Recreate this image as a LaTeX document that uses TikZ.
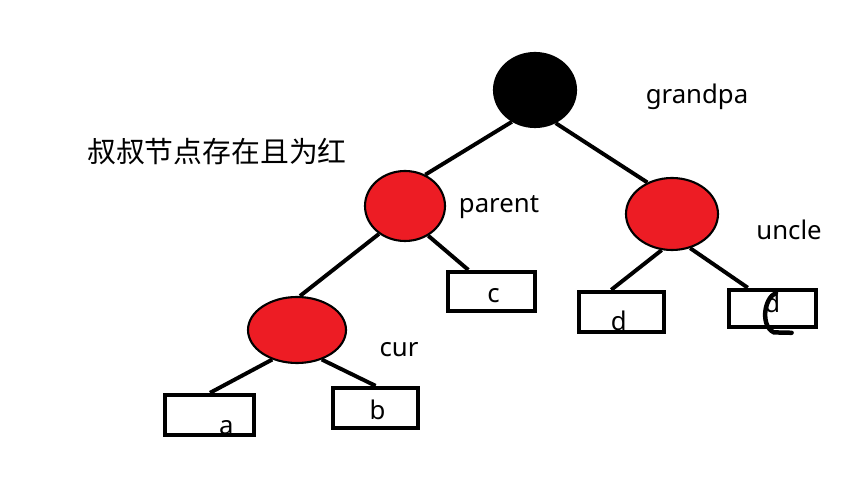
\documentclass[tikz,border=0pt]{standalone}
\usepackage{fontspec}
\usepackage{xcolor}
\setmainfont{Noto Sans}
\newfontfamily\cjk{Noto Sans CJK SC}
\usetikzlibrary{shapes.geometric,calc}
\definecolor{paintred}{RGB}{237,28,36}
\tikzset{
    rbnode/.style={ellipse,draw=black,line width=1.5pt,inner sep=0pt},
    leafbox/.style={rectangle,draw=black,line width=3.1pt,inner sep=0pt},
    treeedge/.style={black,line width=2.8pt},
    lbl/.style={font=\fontsize{18.3}{21}\selectfont,inner sep=0pt}
}

\begin{document}
\begin{tikzpicture}
    % Canvas
    \useasboundingbox (0,0) rectangle (21.15,11.95);

    % Tree nodes
    \node[rbnode,fill=black,minimum width=2.05cm,minimum height=1.85cm] (grandpa) at (13.375,9.7) {};
    \node[rbnode,fill=paintred,minimum width=2.0cm,minimum height=1.75cm] (parent) at (10.125,6.8) {};
    \node[rbnode,fill=paintred,minimum width=2.3cm,minimum height=1.8cm] (uncle) at (16.8,6.6) {};
    \node[rbnode,fill=paintred,minimum width=2.45cm,minimum height=1.65cm] (cur) at (7.425,3.7) {};

    % Leaf boxes
    \node[leafbox,minimum width=2.175cm,minimum height=0.975cm] (c) at (12.29,4.66) {};
    \node[leafbox,minimum width=2.125cm,minimum height=1.0cm] (d) at (15.54,4.15) {};
    \node[leafbox,minimum width=2.175cm,minimum height=0.925cm] (e) at (19.31,4.24) {};
    \node[leafbox,minimum width=2.225cm,minimum height=1.0cm] (a) at (5.24,1.575) {};
    \node[leafbox,minimum width=2.125cm,minimum height=1.0cm] (b) at (9.39,1.75) {};

    % Box texts
    \node[lbl] (ctext) at ($(c)+(0.05,-0.1)$) {c};
    \node[lbl] (dtext) at ($(d)+(-0.07,-0.22)$) {d};
    \node[lbl] (etext) at ($(e)+(0.0,0.14)$) {d};
    \node[lbl] (atext) at ($(a)+(0.42,-0.32)$) {a};
    \node[lbl] (btext) at ($(b)+(0.05,-0.05)$) {b};

    % Hand stroke over the right box
    \draw[black,line width=3.2pt,line cap=round]
        ($(e)+(0.09,0.39)$) .. controls ($(e)+(-0.22,0.25)$) and ($(e)+(-0.3,-0.45)$) .. ($(e)+(0.04,-0.6)$)
        -- ($(e)+(0.48,-0.61)$);

    % Edges
    \draw[treeedge] (grandpa.234) -- (parent.57);
    \draw[treeedge] (grandpa.302) -- (uncle.128);
    \draw[treeedge] (parent.308) -- (c.137);
    \draw[treeedge] (parent.227) -- (cur.85);
    \draw[treeedge] (uncle.254) -- (d.115);
    \draw[treeedge] (uncle.298) -- (e.140);
    \draw[treeedge] (cur.230) -- (a.89);
    \draw[treeedge] (cur.310) -- (b.north);

    % Labels
    \node[lbl] (gplabel) at (17.425,9.525) {grandpa};
    \node[lbl] (plabel) at (12.475,6.775) {parent};
    \node[lbl] (ulabel) at (19.725,6.2) {uncle};
    \node[lbl] (clabel) at (9.975,3.2) {cur};
    \node[inner sep=0pt,font=\cjk\fontsize{20.5}{24}\selectfont] (title) at (5.425,8.15) {叔叔节点存在且为红};
\end{tikzpicture}
\end{document}
